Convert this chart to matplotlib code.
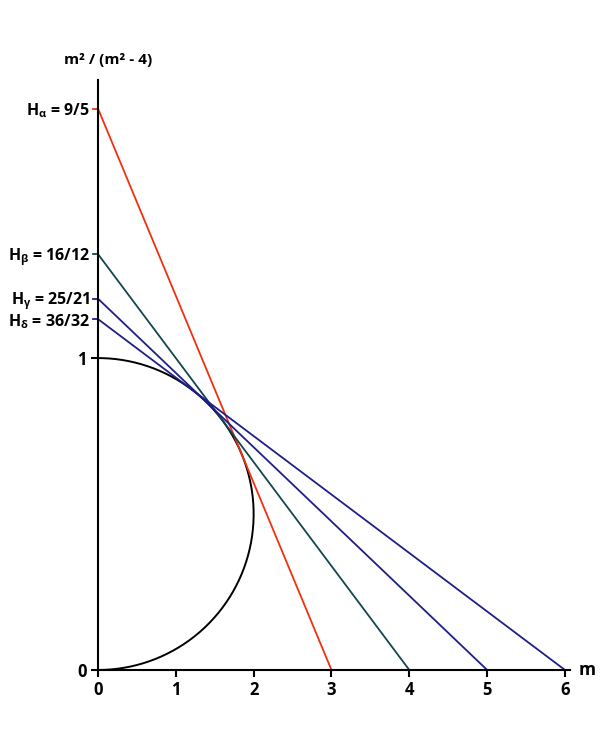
import numpy as np
from matplotlib import pyplot as plt

# DATA
m_values = [3, 4, 5, 6]
h_num = [9, 16, 25, 36]
h_den = [5, 12, 21, 32]
h_names = [r'\alpha', r'\beta', r'\gamma', r'\delta']
line_colors = ['#f2300f', '#12474f', '#1f1f86', '#1f1f86']
x_ticks = [0, 1, 2, 3, 4, 5, 6]
y_ticks = [0, 1]

FONT = 'Open Sans'


def main():
    plt.rcParams['font.family'] = [FONT, 'DejaVu Sans']
    plt.rcParams['mathtext.fontset'] = 'custom'
    plt.rcParams['mathtext.rm'] = FONT + ':bold'
    plt.rcParams['mathtext.it'] = FONT + ':bold'
    plt.rcParams['mathtext.bf'] = FONT + ':bold'

    fig = plt.figure(figsize=(6, 7.5), dpi=100)
    ax = fig.add_axes([0.1633, 0.1067, 0.7874, 0.786])
    ax.set_xlim(0, 6.07)
    ax.set_ylim(0, 1.89)

    # half circle of diameter 1 on the y axis
    t = np.linspace(0, np.pi, 300)
    ax.plot(2 * np.sin(t), 0.5 - 0.5 * np.cos(t), color='black', lw=1.4,
            clip_on=False, zorder=3)

    # tangent lines from (0, H) to (m, 0)
    for m, n, d, c in zip(m_values, h_num, h_den, line_colors):
        h = n / d
        ax.plot([0, m], [h, 0], color=c, lw=1.3, clip_on=False, zorder=4)
        ax.plot([-0.065, 0], [h, h], color=c, lw=1.3, clip_on=False, zorder=4)

    for side in ['top', 'right']:
        ax.spines[side].set_visible(False)
    for side in ['left', 'bottom']:
        ax.spines[side].set_linewidth(1.5)
        ax.spines[side].set_zorder(5)

    ax.set_xticks(x_ticks)
    ax.set_yticks(y_ticks)
    ax.tick_params(axis='both', length=5, width=1.5, labelsize=12, pad=3)
    for lab in ax.get_xticklabels() + ax.get_yticklabels():
        lab.set_fontweight('bold')

    # H labels on the left
    for n, d, name in zip(h_num, h_den, h_names):
        ax.text(-0.1, n / d - 0.008, r'H$_{%s}$ = %d/%d' % (name, n, d), ha='right', va='center',
                fontsize=11.5, fontweight='bold')

    ax.text(6.17, 0.0, 'm', ha='left', va='center', fontsize=12.5, fontweight='bold')
    ax.text(0.13, 1.955, 'm² / (m² - 4)', ha='center', va='center', fontsize=11,
            fontweight='bold')

    fig.savefig('out.png', dpi=100)


if __name__ == '__main__':
    main()
